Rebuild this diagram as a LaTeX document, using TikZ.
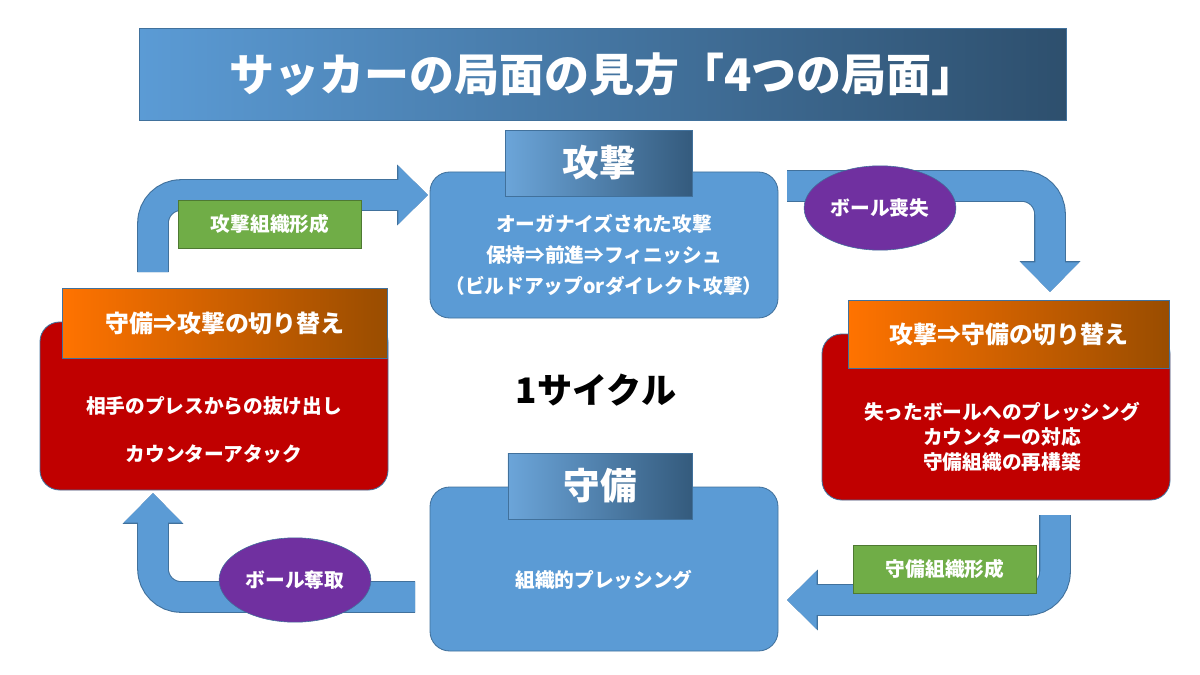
\documentclass[tikz,border=0pt]{standalone}
\usepackage{fontspec}
\setmainfont{Noto Sans CJK JP}
\usetikzlibrary{positioning, arrows.meta, shapes.geometric}

\definecolor{boxblue}{HTML}{5B9BD5}
\definecolor{edgeblue}{HTML}{41719C}
\definecolor{darkred}{HTML}{C00000}
\definecolor{leafgreen}{HTML}{70AD47}
\definecolor{ballpurple}{HTML}{7030A0}

\tikzset{
  phase/.style={draw=edgeblue, fill=boxblue, rounded corners=14pt, line width=0.6pt},
  switch/.style={draw=edgeblue, fill=darkred, rounded corners=14pt, line width=0.6pt},
  head/.style={draw=edgeblue, left color=boxblue!90!white, right color=edgeblue!80!black, text=white, font=\bfseries\fontsize{26}{28}\selectfont},
  swhead/.style={draw=edgeblue, left color=orange!90!red, right color=orange!60!black, text=white, font=\bfseries\fontsize{17}{20}\selectfont},
  body/.style={text=white, font=\bfseries\fontsize{14}{17}\selectfont, align=center},
  flow/.style={line width=21pt, draw=boxblue, rounded corners=20pt, -{Triangle[length=21pt,width=40pt]}},
  flowedge/.style={line width=22.5pt, draw=edgeblue, rounded corners=20pt, -{Triangle[length=22pt,width=42pt]}},
  tag/.style={fill=leafgreen, draw=leafgreen!70!black, text=white, font=\bfseries\fontsize{14}{17}\selectfont, minimum height=34pt, minimum width=130pt},
  event/.style={ellipse, fill=ballpurple, draw=edgeblue, text=white, font=\bfseries\fontsize{14}{17}\selectfont, minimum width=108pt, minimum height=60pt, inner sep=0pt}
}

\begin{document}
\begin{tikzpicture}[x=0.025cm, y=-0.025cm]
  \useasboundingbox (0,0) rectangle (1200,675);

  % title
  \node[draw=edgeblue, left color=boxblue, right color=edgeblue!70!black, minimum width=930*0.709pt, minimum height=92*0.709pt, text=white, font=\bfseries\fontsize{32}{36}\selectfont] (title) at (603,74) {サッカーの局面の見方「4つの局面」};

  % cycle arrows
  \coordinate (tl0) at (153,272);
  \coordinate (tl1) at (428,195);
  \coordinate (tr0) at (787,186);
  \coordinate (tr1) at (1050,292);
  \coordinate (br0) at (1055,515);
  \coordinate (br1) at (787,600);
  \coordinate (bl0) at (415,597);
  \coordinate (bl1) at (153,493);
  \foreach \a/\b/\k in {tl0/tl1/|-, tr0/tr1/-|, br0/br1/|-, bl0/bl1/-|} {
    \draw[flowedge] (\a) \k (\b);
    \draw[flow] (\a) \k (\b);
  }

  % phases
  \draw[phase] (430,172) rectangle (778,318);
  \node[head, minimum width=188*0.709pt, minimum height=66*0.709pt] (atk) at (599,163) {攻撃};
  \node[body] (atktext) at (604,255) {オーガナイズされた攻撃\\[5pt]保持⇒前進⇒フィニッシュ\\[5pt]（ビルドアップorダイレクト攻撃）};

  \draw[phase] (430,487) rectangle (778,651);
  \node[head, minimum width=185*0.709pt, minimum height=66*0.709pt] (dfn) at (600,486) {守備};
  \node[body] (dfntext) at (604,580) {組織的プレッシング};

  \draw[switch] (40,322) rectangle (388,490);
  \node[swhead, minimum width=326*0.709pt, minimum height=70*0.709pt] (d2a) at (225,323) {守備⇒攻撃の切り替え};
  \node[body] (d2atext) at (214,430) {相手のプレスからの抜け出し\\[17pt]カウンターアタック};

  \draw[switch] (822,334) rectangle (1170,500);
  \node[swhead, minimum width=322*0.709pt, minimum height=68*0.709pt] (a2d) at (1009,334) {攻撃⇒守備の切り替え};
  \node[body] (a2dtext) at (1002,437) {失ったボールへのプレッシング\\[1pt]カウンターの対応\\[1pt]守備組織の再構築};

  \node[font=\bfseries\fontsize{25}{28}\selectfont] (cycle) at (596,390) {1サイクル};

  % labels on arrows
  \node[tag] (build) at (270,224) {攻撃組織形成};
  \node[tag] (rebuild) at (945,569) {守備組織形成};
  \node[event] (lost) at (880,208) {ボール喪失};
  \node[event] (won) at (295,580) {ボール奪取};
\end{tikzpicture}
\end{document}
